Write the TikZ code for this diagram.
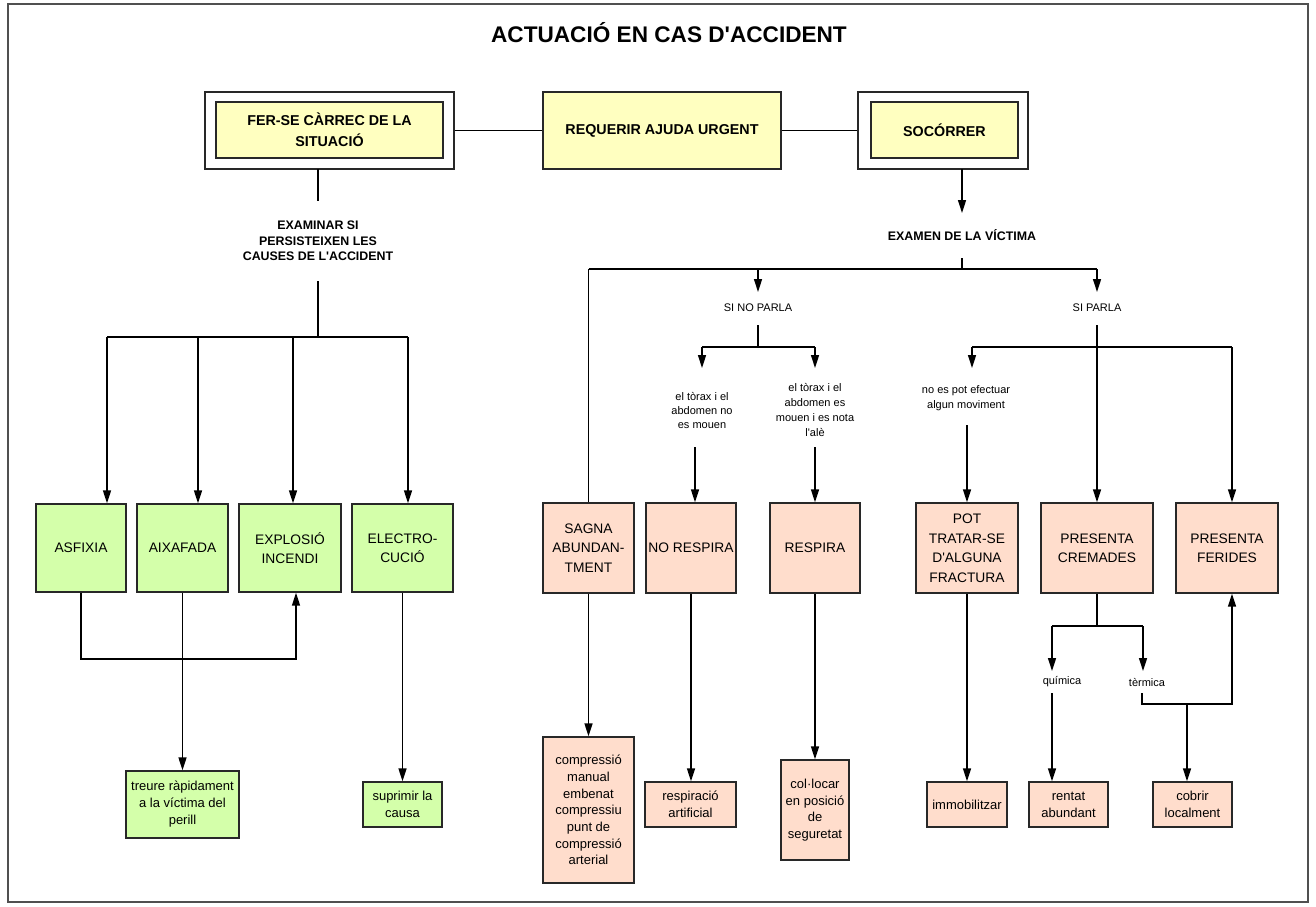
\documentclass[tikz,border=0pt]{standalone}
\usepackage{fontspec}
\setmainfont{Liberation Sans}[Ligatures=TeXOff]
\usetikzlibrary{arrows.meta}
\definecolor{yfill}{RGB}{255,255,192}
\definecolor{gfill}{RGB}{212,255,170}
\definecolor{pfill}{RGB}{255,221,204}
\definecolor{edge}{RGB}{40,40,40}
\definecolor{framec}{RGB}{80,80,80}
\begin{document}
\begin{tikzpicture}[x=1pt,y=-1pt,
 bx/.style={draw=edge,line width=1.4pt,inner sep=0pt,align=center,font=\fontsize{13.8}{19.5}\selectfont},
 topbox/.style={bx,fill=yfill,font=\bfseries\fontsize{14.3}{21}\selectfont},
 dframe/.style={draw=edge,line width=1.4pt,fill=white,inner sep=0pt},
 gbox/.style={bx,fill=gfill},
 pbox/.style={bx,fill=pfill},
 gsmall/.style={bx,fill=gfill,font=\fontsize{13}{17}\selectfont},
 psmall/.style={bx,fill=pfill,font=\fontsize{13}{16.7}\selectfont},
 lbl/.style={inner sep=0pt,align=center,font=\fontsize{11}{15.3}\selectfont},
 blbl/.style={inner sep=0pt,align=center,font=\bfseries\fontsize{12.4}{15.3}\selectfont},
 con/.style={line width=1.5pt,draw=black},
 arr/.style={con,-{Triangle[length=13pt,width=8pt]}},
]
\useasboundingbox (0,0) rectangle (1316,906);
\draw[framec,line width=1.3pt] (8,4) rectangle (1308,902);

% title
\node[font=\bfseries\fontsize{22.6}{26}\selectfont] (title) at (669,33) {ACTUACIÓ EN CAS D'ACCIDENT};

% top boxes
\node[dframe,minimum width=249pt,minimum height=77pt] (ferout) at (329.5,130.5) {};
\node[topbox,minimum width=227pt,minimum height=56pt] (ferin) at (329.5,130) {FER-SE CÀRREC DE LA\\SITUACIÓ};
\node[topbox,minimum width=238pt,minimum height=77pt] (req) at (662,130.5) {REQUERIR AJUDA URGENT};
\node[dframe,minimum width=170pt,minimum height=77pt] (socout) at (943,130.5) {};
\node[topbox,minimum width=147pt,minimum height=56pt] (socin) at (944.5,130) {SOCÓRRER};
\draw[con] (ferout.east) -- (req.west);
\draw[con] (req.east) -- (socout.west);

% left branch
\coordinate (fa) at (318,169);
\coordinate (fb) at (318,201);
\draw[con,line width=2.2pt] (fa) -- (fb);
\node[blbl] (exam) at (318,241) {EXAMINAR SI\\PERSISTEIXEN LES\\CAUSES DE L'ACCIDENT};
\coordinate (ea) at (318,281);
\coordinate (eb) at (318,337);
\draw[con,line width=2.6pt] (ea) -- (eb);

\node[gbox,minimum width=90pt,minimum height=88pt] (asf) at (81,548) {ASFIXIA};
\node[gbox,minimum width=91pt,minimum height=88pt] (aix) at (182.5,548) {AIXAFADA};
\node[gbox,minimum width=102pt,minimum height=88pt] (exp) at (290,548) {EXPLOSIÓ\\INCENDI};
\node[gbox,minimum width=101pt,minimum height=88pt] (ele) at (402.5,548) {ELECTRO-\\CUCIÓ};

\coordinate (h1) at (107,337);
\coordinate (h2) at (198,337);
\coordinate (h3) at (293,337);
\coordinate (h4) at (408,337);
\draw[con] (h1) -- (h4);
\draw[arr] (h1) -- (h1 |- asf.north);
\draw[arr] (h2) -- (h2 |- aix.north);
\draw[arr] (h3) -- (h3 |- exp.north);
\draw[arr] (h4) -- (h4 |- ele.north);

\coordinate (lp) at (296,659);
\draw[arr] (asf.south) |- (lp) -- (lp |- exp.south);

\node[gsmall,minimum width=113pt,minimum height=67pt] (tre) at (182.5,804.5) {treure ràpidament\\a la víctima del\\perill};
\node[gsmall,minimum width=79pt,minimum height=45pt] (sup) at (402.5,804.5) {suprimir la\\causa};
\draw[arr] (aix.south -| tre.north) -- (tre.north);
\draw[arr] (ele.south) -- (ele.south |- sup.north);

% right branch
\coordinate (sa) at (962,169);
\node[blbl] (vic) at (962,235) {EXAMEN DE LA VÍCTIMA};
\draw[arr] (sa) -- (962,213);
\coordinate (va) at (962,258);
\coordinate (vb) at (962,269);
\draw[con] (va) -- (vb);
\coordinate (r0) at (588.5,269);
\coordinate (r1) at (758,269);
\coordinate (r2) at (1097,269);
\draw[con] (r0) -- (r2);

\node[pbox,minimum width=91pt,minimum height=90pt] (sag) at (588.5,548) {SAGNA\\ABUNDAN-\\TMENT};
\node[pbox,minimum width=90pt,minimum height=90pt] (nre) at (691,548) {NO RESPIRA};
\node[pbox,minimum width=90pt,minimum height=90pt] (res) at (815,548) {RESPIRA};
\node[pbox,minimum width=102pt,minimum height=90pt] (pot) at (967,548) {POT\\TRATAR-SE\\D'ALGUNA\\FRACTURA};
\node[pbox,minimum width=112pt,minimum height=90pt] (cre) at (1097,548) {PRESENTA\\CREMADES};
\node[pbox,minimum width=102pt,minimum height=90pt] (fer) at (1227,548) {PRESENTA\\FERIDES};

\draw[con] (r0) -- (sag.north);

% si no parla
\node[lbl] (snp) at (758,308) {SI NO PARLA};
\draw[arr] (r1) -- (758,292);
\coordinate (n1) at (758,325);
\coordinate (n2) at (758,347);
\draw[con] (n1) -- (n2);
\coordinate (n3) at (702,347);
\coordinate (n4) at (815,347);
\draw[con] (n3) -- (n4);
\draw[arr] (n3) -- (702,368);
\draw[arr] (n4) -- (815,368);
\node[lbl,font=\fontsize{11}{14}\selectfont] (t1) at (702,410) {el tòrax i el\\abdomen no\\es mouen};
\node[lbl] (t2) at (815,410) {el tòrax i el\\abdomen es\\mouen i es nota\\l'alè};
\coordinate (m1) at (695,447);
\coordinate (m2) at (815,447);
\draw[arr] (m1) -- (m1 |- nre.north);
\draw[arr] (m2) -- (res.north);

% si parla
\node[lbl] (sp) at (1097,308) {SI PARLA};
\draw[arr] (r2) -- (1097,292);
\coordinate (p1) at (1097,325);
\draw[arr] (p1) -- (cre.north);
\coordinate (p2) at (972,347);
\coordinate (p3) at (1232,347);
\draw[con] (p2) -- (p3);
\draw[arr] (p2) -- (972,368);
\draw[arr] (p3) -- (p3 |- fer.north);
\node[lbl] (t3) at (966,398) {no es pot efectuar\\algun moviment};
\coordinate (p4) at (967,425);
\draw[arr] (p4) -- (pot.north);

% bottom right boxes
\node[psmall,minimum width=91pt,minimum height=146pt] (comp) at (588.5,810) {compressió\\manual\\embenat\\compressiu\\punt de\\compressió\\arterial};
\node[psmall,minimum width=91pt,minimum height=45pt] (resp) at (690.5,804.5) {respiració\\artificial};
\node[psmall,minimum width=68pt,minimum height=100pt] (col) at (815,810) {col·locar\\en posició\\de\\seguretat};
\node[psmall,minimum width=80pt,minimum height=45pt] (imm) at (967,804.5) {immobilitzar};
\node[psmall,minimum width=79pt,minimum height=45pt] (ren) at (1068.5,804.5) {rentat\\abundant};
\node[psmall,minimum width=79pt,minimum height=45pt] (cob) at (1192.5,804.5) {cobrir\\localment};

\draw[arr] (sag.south) -- (comp.north);
\draw[arr] (nre.south) -- (nre.south |- resp.north);
\draw[arr] (res.south) -- (col.north);
\draw[arr] (pot.south) -- (imm.north);

\coordinate (c1) at (1097,626);
\coordinate (c2) at (1052,626);
\coordinate (c3) at (1143,626);
\draw[con] (cre.south) -- (c1);
\draw[con] (c2) -- (c3);
\draw[arr] (c2) -- (1052,671);
\draw[arr] (c3) -- (1143,671);
\node[lbl] (qui) at (1062,682) {química};
\node[lbl] (ter) at (1147,682) {tèrmica};
\coordinate (q1) at (1052,693);
\draw[arr] (q1) -- (q1 |- ren.north);
\coordinate (k1) at (1142,693);
\coordinate (k2) at (1142,704);
\coordinate (k3) at (1232,704);
\coordinate (k4) at (1187,704);
\draw[arr] (k1) -- (k2) -- (k3) -- (k3 |- fer.south);
\draw[arr] (k4) -- (k4 |- cob.north);
\end{tikzpicture}
\end{document}
